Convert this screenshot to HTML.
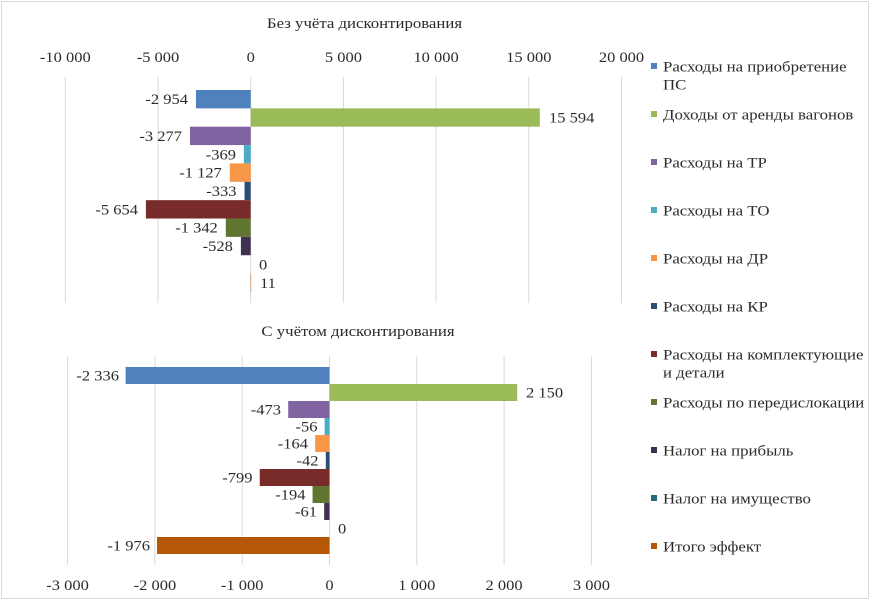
<!DOCTYPE html>
<html><head><meta charset="utf-8"><style>
html,body{margin:0;padding:0;background:#fff;}
svg{display:block;}
text{font-family:"Liberation Serif","Noto Serif CJK SC",serif;font-size:15px;fill:#2b2b2b;}
</style></head><body>
<svg width="871" height="601" viewBox="0 0 871 601" xmlns="http://www.w3.org/2000/svg">
<rect x="0" y="0" width="871" height="601" fill="#fff"/>
<rect x="1.5" y="1.5" width="867" height="597" fill="none" stroke="#d9d9d9" stroke-width="1"/>

<!-- TOP CHART -->
<text transform="translate(364.5 28) scale(1.12 1)" text-anchor="middle">Без учёта дисконтирования</text>
<g stroke="#d9d9d9" stroke-width="1">
<line x1="65.3" y1="77" x2="65.3" y2="303"/>
<line x1="158" y1="77" x2="158" y2="303"/>
<line x1="250.7" y1="77" x2="250.7" y2="303"/>
<line x1="343.4" y1="77" x2="343.4" y2="303"/>
<line x1="436.1" y1="77" x2="436.1" y2="303"/>
<line x1="528.8" y1="77" x2="528.8" y2="303"/>
<line x1="621.5" y1="77" x2="621.5" y2="303"/>
</g>
<g text-anchor="middle">
<text transform="translate(65.3 62) scale(1.1 1)">-10 000</text>
<text transform="translate(158 62) scale(1.1 1)">-5 000</text>
<text transform="translate(250.7 62) scale(1.1 1)">0</text>
<text transform="translate(343.4 62) scale(1.1 1)">5 000</text>
<text transform="translate(436.1 62) scale(1.1 1)">10 000</text>
<text transform="translate(528.8 62) scale(1.1 1)">15 000</text>
<text transform="translate(621.5 62) scale(1.1 1)">20 000</text>
</g>
<rect x="195.93" y="90" width="54.77" height="18.36" fill="#4F81BD"/>
<rect x="250.7" y="108.36" width="289.1" height="18.36" fill="#9BBB59"/>
<rect x="189.94" y="126.72" width="60.76" height="18.36" fill="#8064A2"/>
<rect x="243.86" y="145.08" width="6.84" height="18.36" fill="#4BACC6"/>
<rect x="229.8" y="163.44" width="20.9" height="18.36" fill="#F79646"/>
<rect x="244.53" y="181.8" width="6.17" height="18.36" fill="#2C4D75"/>
<rect x="145.9" y="200.16" width="104.8" height="18.36" fill="#772C2A"/>
<rect x="225.82" y="218.52" width="24.88" height="18.36" fill="#5F7530"/>
<rect x="240.9" y="236.88" width="9.8" height="18.36" fill="#403152"/>
<rect x="250.2" y="273.6" width="1" height="18.36" fill="#B65708" opacity="0.4"/>
<g text-anchor="end">
<text transform="translate(188 104.2) scale(1.1 1)">-2 954</text>
<text transform="translate(182 140.9) scale(1.1 1)">-3 277</text>
<text transform="translate(236 159.3) scale(1.1 1)">-369</text>
<text transform="translate(221.8 177.6) scale(1.1 1)">-1 127</text>
<text transform="translate(236.5 196) scale(1.1 1)">-333</text>
<text transform="translate(138 214.3) scale(1.1 1)">-5 654</text>
<text transform="translate(217.8 232.7) scale(1.1 1)">-1 342</text>
<text transform="translate(232.9 251.1) scale(1.1 1)">-528</text>
</g>
<g text-anchor="start">
<text transform="translate(549 122.5) scale(1.1 1)">15 594</text>
<text transform="translate(259 269.4) scale(1.1 1)">0</text>
<text transform="translate(260 287.8) scale(1.1 1)">11</text>
</g>

<!-- BOTTOM CHART -->
<text transform="translate(358 336) scale(1.12 1)" text-anchor="middle">С учётом дисконтирования</text>
<g stroke="#d9d9d9" stroke-width="1">
<line x1="67.6" y1="356" x2="67.6" y2="565"/>
<line x1="154.9" y1="356" x2="154.9" y2="565"/>
<line x1="242.2" y1="356" x2="242.2" y2="565"/>
<line x1="329.5" y1="356" x2="329.5" y2="565"/>
<line x1="416.8" y1="356" x2="416.8" y2="565"/>
<line x1="504.1" y1="356" x2="504.1" y2="565"/>
<line x1="591.4" y1="356" x2="591.4" y2="565"/>
</g>
<g text-anchor="middle">
<text transform="translate(67.6 590) scale(1.1 1)">-3 000</text>
<text transform="translate(154.9 590) scale(1.1 1)">-2 000</text>
<text transform="translate(242.2 590) scale(1.1 1)">-1 000</text>
<text transform="translate(329.5 590) scale(1.1 1)">0</text>
<text transform="translate(416.8 590) scale(1.1 1)">1 000</text>
<text transform="translate(504.1 590) scale(1.1 1)">2 000</text>
<text transform="translate(591.4 590) scale(1.1 1)">3 000</text>
</g>
<rect x="125.6" y="367" width="203.9" height="17" fill="#4F81BD"/>
<rect x="329.5" y="384" width="187.7" height="17" fill="#9BBB59"/>
<rect x="288.2" y="401" width="41.3" height="17" fill="#8064A2"/>
<rect x="324.6" y="418" width="4.9" height="17" fill="#4BACC6"/>
<rect x="315.2" y="435" width="14.3" height="17" fill="#F79646"/>
<rect x="325.8" y="452" width="3.7" height="17" fill="#2C4D75"/>
<rect x="259.75" y="469" width="69.75" height="17" fill="#772C2A"/>
<rect x="312.56" y="486" width="16.94" height="17" fill="#5F7530"/>
<rect x="324.17" y="503" width="5.33" height="17" fill="#403152"/>
<rect x="157" y="537" width="172.5" height="17" fill="#B65708"/>
<g text-anchor="end">
<text transform="translate(119 380.5) scale(1.1 1)">-2 336</text>
<text transform="translate(281 414.5) scale(1.1 1)">-473</text>
<text transform="translate(317.5 431.5) scale(1.1 1)">-56</text>
<text transform="translate(308 448.5) scale(1.1 1)">-164</text>
<text transform="translate(318.5 465.5) scale(1.1 1)">-42</text>
<text transform="translate(252.5 482.5) scale(1.1 1)">-799</text>
<text transform="translate(305.5 499.5) scale(1.1 1)">-194</text>
<text transform="translate(317 516.5) scale(1.1 1)">-61</text>
<text transform="translate(150 550.5) scale(1.1 1)">-1 976</text>
</g>
<g text-anchor="start">
<text transform="translate(526 397.5) scale(1.1 1)">2 150</text>
<text transform="translate(338 533.5) scale(1.1 1)">0</text>
</g>

<!-- LEGEND -->
<rect x="651" y="63" width="6" height="6" fill="#4F81BD"/>
<rect x="651" y="111" width="6" height="6" fill="#9BBB59"/>
<rect x="651" y="159" width="6" height="6" fill="#8064A2"/>
<rect x="651" y="207" width="6" height="6" fill="#4BACC6"/>
<rect x="651" y="255" width="6" height="6" fill="#F79646"/>
<rect x="651" y="303" width="6" height="6" fill="#2C4D75"/>
<rect x="651" y="351" width="6" height="6" fill="#772C2A"/>
<rect x="651" y="399" width="6" height="6" fill="#5F7530"/>
<rect x="651" y="447" width="6" height="6" fill="#403152"/>
<rect x="651" y="495" width="6" height="6" fill="#276A7C"/>
<rect x="651" y="543" width="6" height="6" fill="#B65708"/>
<g text-anchor="start">
<text transform="translate(663 71.5) scale(1.12 1)">Расходы на приобретение</text>
<text transform="translate(663 89.5) scale(1.12 1)">ПС</text>
<text transform="translate(663 119.5) scale(1.12 1)">Доходы от аренды вагонов</text>
<text transform="translate(663 167.5) scale(1.12 1)">Расходы на ТР</text>
<text transform="translate(663 215.5) scale(1.12 1)">Расходы на ТО</text>
<text transform="translate(663 263.5) scale(1.12 1)">Расходы на ДР</text>
<text transform="translate(663 311.5) scale(1.12 1)">Расходы на КР</text>
<text transform="translate(663 359.5) scale(1.12 1)">Расходы на комплектующие</text>
<text transform="translate(663 377.5) scale(1.12 1)">и детали</text>
<text transform="translate(663 407.5) scale(1.12 1)">Расходы по передислокации</text>
<text transform="translate(663 455.5) scale(1.12 1)">Налог на прибыль</text>
<text transform="translate(663 503.5) scale(1.12 1)">Налог на имущество</text>
<text transform="translate(663 551.5) scale(1.12 1)">Итого эффект</text>
</g>
</svg>
</body></html>
